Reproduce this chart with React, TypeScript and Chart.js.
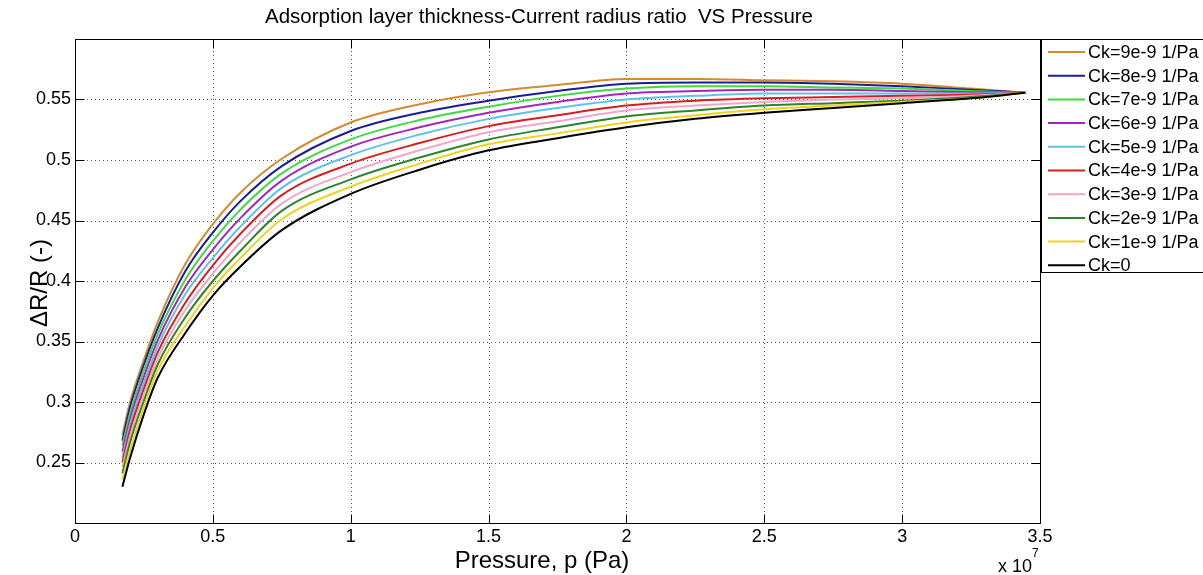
import React, { useEffect, useRef } from "react";
import { Chart, registerables } from "chart.js";

Chart.register(...registerables);

const FONT = '"Liberation Sans", Arial, Helvetica, sans-serif';

// Pressure (Pa)
const pressure = [1.72e6, 2.0e6, 2.5e6, 3.0e6, 4.0e6, 5.0e6, 6.0e6, 7.5e6, 1.0e7, 1.25e7, 1.5e7, 1.75e7, 2.0e7, 2.25e7, 2.5e7, 2.75e7, 3.0e7, 3.25e7, 3.447e7];

const ck9 = [0.273, 0.300, 0.335, 0.366, 0.414, 0.447, 0.473, 0.501, 0.531, 0.546, 0.556, 0.562, 0.567, 0.567, 0.566, 0.565, 0.563, 0.559, 0.5556];
const ck8 = [0.268, 0.296, 0.331, 0.361, 0.408, 0.440, 0.466, 0.495, 0.524, 0.539, 0.549, 0.557, 0.563, 0.564, 0.564, 0.563, 0.561, 0.558, 0.5556];
const ck7 = [0.264, 0.291, 0.326, 0.356, 0.401, 0.433, 0.459, 0.489, 0.517, 0.533, 0.544, 0.553, 0.559, 0.561, 0.561, 0.560, 0.559, 0.557, 0.5556];
const ck6 = [0.259, 0.286, 0.321, 0.351, 0.395, 0.426, 0.452, 0.483, 0.511, 0.527, 0.539, 0.548, 0.555, 0.557, 0.558, 0.558, 0.557, 0.556, 0.5556];
const ck5 = [0.254, 0.282, 0.316, 0.346, 0.389, 0.419, 0.445, 0.477, 0.504, 0.521, 0.534, 0.543, 0.550, 0.553, 0.555, 0.555, 0.555, 0.555, 0.5556];
const ck4 = [0.250, 0.277, 0.311, 0.341, 0.382, 0.413, 0.439, 0.471, 0.497, 0.514, 0.528, 0.537, 0.545, 0.549, 0.551, 0.552, 0.553, 0.554, 0.5556];
const ck3 = [0.246, 0.272, 0.306, 0.336, 0.376, 0.406, 0.432, 0.464, 0.490, 0.508, 0.523, 0.532, 0.541, 0.545, 0.548, 0.550, 0.551, 0.553, 0.5556];
const ck2 = [0.241, 0.267, 0.301, 0.331, 0.370, 0.400, 0.425, 0.458, 0.484, 0.502, 0.517, 0.527, 0.536, 0.541, 0.545, 0.547, 0.549, 0.552, 0.5556];
const ck1 = [0.236, 0.260, 0.296, 0.326, 0.363, 0.394, 0.419, 0.451, 0.478, 0.497, 0.513, 0.522, 0.531, 0.537, 0.542, 0.545, 0.548, 0.551, 0.5556];
const ck0 = [0.230, 0.254, 0.290, 0.320, 0.357, 0.388, 0.412, 0.442, 0.472, 0.492, 0.508, 0.518, 0.527, 0.534, 0.539, 0.543, 0.547, 0.551, 0.5556];

const seriesLabels = ["Ck=9e-9 1/Pa", "Ck=8e-9 1/Pa", "Ck=7e-9 1/Pa", "Ck=6e-9 1/Pa", "Ck=5e-9 1/Pa", "Ck=4e-9 1/Pa", "Ck=3e-9 1/Pa", "Ck=2e-9 1/Pa", "Ck=1e-9 1/Pa", "Ck=0"];
const seriesValues = [ck9, ck8, ck7, ck6, ck5, ck4, ck3, ck2, ck1, ck0];
const seriesColors = ["#D58A2C", "#1C1C96", "#3EDC3E", "#A426C2", "#5EC3E6", "#D81E1E", "#F2A6CC", "#2A862A", "#F2D21E", "#000000"];

const xTicks = [0, 0.5e7, 1e7, 1.5e7, 2e7, 2.5e7, 3e7, 3.5e7];
const yTicks = [0.25, 0.3, 0.35, 0.4, 0.45, 0.5, 0.55];

const titleText = "Adsorption layer thickness-Current radius ratio  VS Pressure";
const xLabelText = "Pressure, p (Pa)";
const yLabelText = "\u0394R/R (-)";

const frame = {
  id: "matlabFrame",
  beforeDatasetsDraw(chart: any) {
    const { ctx, chartArea: a, scales } = chart;
    ctx.save();
    ctx.strokeStyle = "#555";
    ctx.lineWidth = 1;
    ctx.setLineDash([1, 3]);
    for (const t of xTicks) {
      const x = Math.round(scales.x.getPixelForValue(t)) + 0.5;
      if (x <= a.left + 1 || x >= a.right - 1) continue;
      ctx.beginPath();
      ctx.moveTo(x, a.top);
      ctx.lineTo(x, a.bottom);
      ctx.stroke();
    }
    for (const t of yTicks) {
      const y = Math.round(scales.y.getPixelForValue(t)) + 0.5;
      if (y <= a.top + 1 || y >= a.bottom - 1) continue;
      ctx.beginPath();
      ctx.moveTo(a.left, y);
      ctx.lineTo(a.right, y);
      ctx.stroke();
    }
    ctx.restore();
  },
  afterDatasetsDraw(chart: any) {
    const { ctx, chartArea: a, scales } = chart;
    ctx.save();
    const L = Math.round(a.left) + 0.5;
    const R = Math.round(a.right) + 0.5;
    const T = Math.round(a.top) + 0.5;
    const B = Math.round(a.bottom) + 0.5;
    ctx.setLineDash([]);
    ctx.strokeStyle = "#000";
    ctx.lineWidth = 1;
    ctx.strokeRect(L, T, R - L, B - T);
    const tl = 9;
    ctx.beginPath();
    for (const t of xTicks) {
      const x = Math.round(scales.x.getPixelForValue(t)) + 0.5;
      ctx.moveTo(x, B);
      ctx.lineTo(x, B - tl);
      ctx.moveTo(x, T);
      ctx.lineTo(x, T + tl);
    }
    for (const t of yTicks) {
      const y = Math.round(scales.y.getPixelForValue(t)) + 0.5;
      ctx.moveTo(L, y);
      ctx.lineTo(L + tl, y);
      ctx.moveTo(R, y);
      ctx.lineTo(R - tl, y);
    }
    ctx.stroke();

    // texts
    ctx.fillStyle = "#000";
    ctx.textAlign = "center";
    ctx.textBaseline = "middle";
    ctx.font = `20.5px ${FONT}`;
    ctx.fillText(titleText, 539, 17);
    ctx.font = `24px ${FONT}`;
    ctx.fillText(xLabelText, 542, 561);
    ctx.save();
    ctx.translate(40, 283);
    ctx.rotate(-Math.PI / 2);
    ctx.fillText(yLabelText, 0, 0);
    ctx.restore();
    ctx.textAlign = "left";
    ctx.font = `18px ${FONT}`;
    ctx.fillText("x 10", 998, 567);
    ctx.font = `12px ${FONT}`;
    ctx.fillText("7", 1032, 554);

    // legend
    const lx = 1041.5, ly = 39.5, lw = 200, lh = 233;
    ctx.fillStyle = "#fff";
    ctx.fillRect(lx, ly, lw, lh);
    ctx.strokeStyle = "#000";
    ctx.strokeRect(lx, ly, lw, lh);
    ctx.font = `18px ${FONT}`;
    ctx.textBaseline = "middle";
    chart.data.datasets.forEach((ds: any, i: number) => {
      const y = 52 + i * 23.7;
      ctx.strokeStyle = ds.borderColor;
      ctx.lineWidth = 2;
      ctx.beginPath();
      ctx.moveTo(1048, y);
      ctx.lineTo(1085, y);
      ctx.stroke();
      ctx.fillStyle = "#000";
      ctx.fillText(ds.label, 1088, y + 1);
    });
    ctx.restore();
  },
};

export default function App() {
  const ref = useRef<HTMLCanvasElement | null>(null);
  useEffect(() => {
    if (!ref.current) return;
    const datasets = seriesValues.map((vals, i) => ({
      label: seriesLabels[i],
      data: vals.map((v, j) => ({ x: pressure[j], y: v })),
      borderColor: seriesColors[i],
      backgroundColor: seriesColors[i],
      borderWidth: 2,
      pointRadius: 0,
      fill: false,
      cubicInterpolationMode: "monotone" as const,
      order: seriesValues.length - 1 - i,
    }));
    const chart = new Chart(ref.current, {
      type: "line",
      data: { datasets },
      options: {
        animation: false,
        responsive: false,
        devicePixelRatio: 1,
        layout: { padding: { left: 0, top: 39, right: 163, bottom: 0 } },
        plugins: { legend: { display: false }, tooltip: { enabled: false }, title: { display: false } },
        scales: {
          x: {
            type: "linear",
            min: 0,
            max: 3.5e7,
            grid: { display: false, drawTicks: false },
            border: { display: false },
            afterBuildTicks: (s: any) => { s.ticks = xTicks.map((v) => ({ value: v })); },
            afterFit: (s: any) => { s.height = 52; },
            ticks: {
              padding: 3,
              color: "#000",
              font: { family: FONT, size: 18 },
              maxRotation: 0,
              autoSkip: false,
              callback: (v: any) => String(Number((Number(v) / 1e7).toFixed(2))),
            },
          },
          y: {
            type: "linear",
            min: 0.2,
            max: 0.6,
            grid: { display: false, drawTicks: false },
            border: { display: false },
            afterBuildTicks: (s: any) => { s.ticks = yTicks.map((v) => ({ value: v })); },
            afterFit: (s: any) => { s.width = 75; },
            ticks: {
              padding: 4,
              color: "#000",
              font: { family: FONT, size: 18 },
              autoSkip: false,
              callback: (v: any) => String(Number(Number(v).toFixed(2))),
            },
          },
        },
      },
      plugins: [frame],
    });
    return () => chart.destroy();
  }, []);
  return (
    <div style={{ position: "absolute", left: 0, top: 0, width: 1203, height: 575, background: "#fff" }}>
      <canvas ref={ref} width={1203} height={575} style={{ display: "block" }} />
    </div>
  );
}
